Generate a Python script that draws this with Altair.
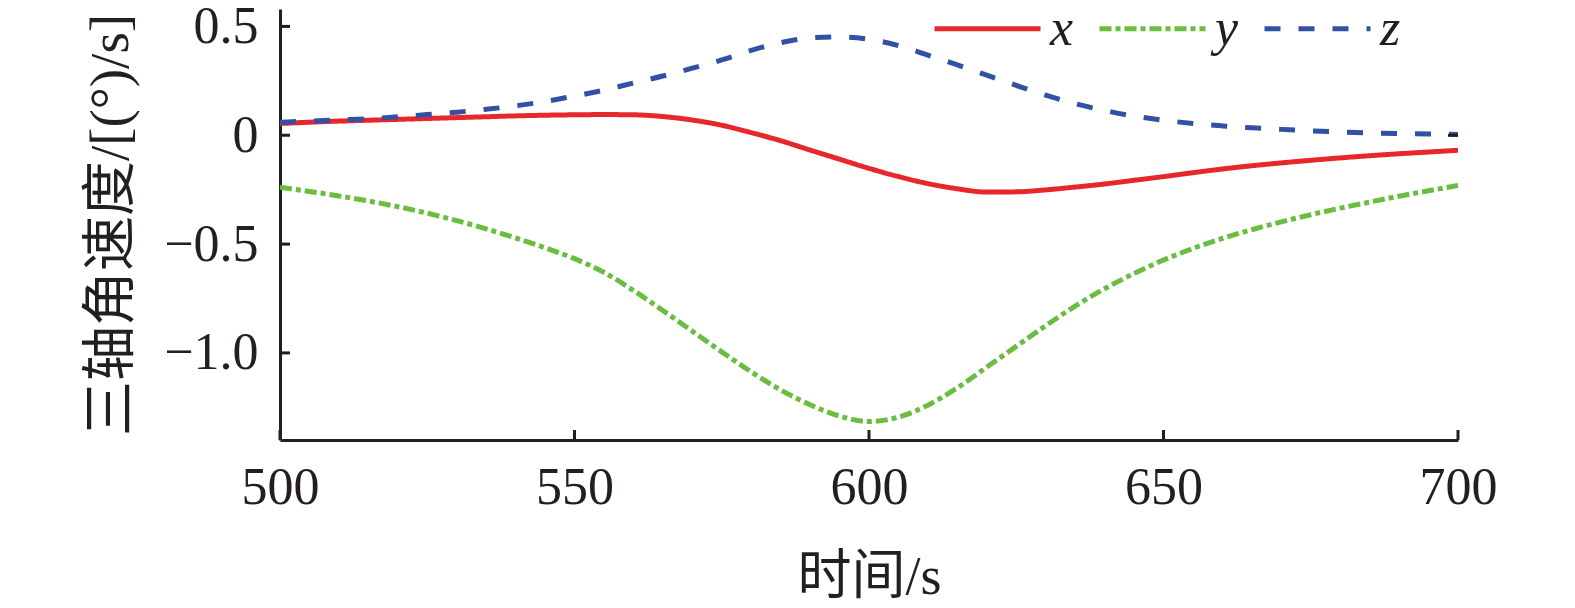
import altair as alt
import pandas as pd

# time axis (s)
t_vals = list(range(500, 701, 5))

# three-axis angular velocity, (°)/s
x_vals = [0.054, 0.060, 0.065, 0.069, 0.073, 0.077, 0.081, 0.085, 0.089, 0.092,
          0.094, 0.095, 0.094, 0.086, 0.070, 0.046, 0.012, -0.025, -0.068, -0.110,
          -0.152, -0.190, -0.222, -0.246, -0.261, -0.260, -0.251, -0.238, -0.224, -0.207,
          -0.190, -0.172, -0.155, -0.140, -0.127, -0.115, -0.104, -0.094, -0.085, -0.077,
          -0.069]
y_vals = [-0.239, -0.258, -0.279, -0.302, -0.328, -0.358, -0.392, -0.430, -0.472, -0.517,
          -0.567, -0.630, -0.713, -0.805, -0.900, -0.995, -1.087, -1.170, -1.238, -1.290,
          -1.315, -1.295, -1.240, -1.160, -1.065, -0.970, -0.875, -0.785, -0.705, -0.635,
          -0.573, -0.520, -0.474, -0.434, -0.398, -0.365, -0.335, -0.307, -0.280, -0.255,
          -0.231]
z_vals = [0.060, 0.065, 0.071, 0.076, 0.085, 0.095, 0.106, 0.119, 0.135, 0.155,
          0.180, 0.207, 0.240, 0.272, 0.308, 0.346, 0.390, 0.425, 0.447, 0.452,
          0.441, 0.412, 0.368, 0.323, 0.276, 0.229, 0.184, 0.145, 0.114, 0.088,
          0.069, 0.054, 0.043, 0.034, 0.027, 0.020, 0.015, 0.011, 0.008, 0.006,
          0.004]

series_names = ["x", "y", "z"]
series_colors = ["#e8272c", "#6abd3f", "#3151a5"]
series_dash = [[1, 0], [12, 4, 5, 4], [16, 18]]

x_ticks = [500, 550, 600, 650, 700]
y_ticks = [0.5, 0, -0.5, -1.0]
right_ticks = [0]

rows = []
for name, vals in zip(series_names, [x_vals, y_vals, z_vals]):
    for t, v in zip(t_vals, vals):
        rows.append({"t": t, "v": v, "s": name})
df = pd.DataFrame(rows)

W, H = 1178, 431
SERIF = "Liberation Serif, Noto Sans CJK SC, serif"
INK = "#231f20"
TICK = 10

xscale = alt.Scale(domain=[500, 700], nice=False, zero=False)
yscale = alt.Scale(domain=[-1.40, 0.58], nice=False, zero=False)

ylabel_expr = ("datum.value == 0 ? '0' : (datum.value < 0 ? '\u2212' + format(abs(datum.value), '.1f')"
               " : format(datum.value, '.1f'))")

legend_def = alt.Legend(
    title=None, orient="none", legendX=652, legendY=-36, direction="horizontal",
    symbolType="stroke", symbolSize=11236, symbolStrokeWidth=5,
    labelFont="Liberation Serif", labelFontStyle="italic", labelFontSize=52,
    labelColor=INK, labelOffset=7, columnPadding=15, padding=0,
)

lines = alt.Chart(df).mark_line(strokeWidth=5, interpolate="monotone").encode(
    x=alt.X("t:Q", scale=xscale, axis=alt.Axis(
        values=x_ticks, ticks=False, tickSize=0, grid=False, format="d", labelFlush=False,
        domainColor=INK, domainWidth=3,
        labelFont=SERIF, labelFontSize=52, labelColor=INK, labelPadding=22,
        title="时间/s", titleFont=SERIF, titleFontSize=54, titleFontWeight="normal",
        titleColor=INK, titlePadding=37)),
    y=alt.Y("v:Q", scale=yscale, axis=alt.Axis(
        values=y_ticks, ticks=False, tickSize=0, grid=False, labelExpr=ylabel_expr, labelFlush=False,
        domainColor=INK, domainWidth=3,
        labelFont=SERIF, labelFontSize=52, labelColor=INK, labelPadding=22,
        title="三轴角速度/[(°)/s]", titleFont=SERIF, titleFontSize=55, titleFontWeight="normal",
        titleColor=INK, titlePadding=24)),
    color=alt.Color("s:N", scale=alt.Scale(domain=series_names, range=series_colors), legend=legend_def),
    strokeDash=alt.StrokeDash("s:N", scale=alt.Scale(domain=series_names, range=series_dash), legend=legend_def),
)

# inward tick marks drawn through the shared scales
xt = pd.DataFrame({"t": x_ticks})
yt = pd.DataFrame({"v": y_ticks})
rt = pd.DataFrame({"v": right_ticks})

xtick_layer = alt.Chart(xt).mark_rule(strokeWidth=3, color=INK).encode(
    x=alt.X("t:Q", scale=xscale), y=alt.value(H), y2=alt.value(H - TICK))
ytick_layer = alt.Chart(yt).mark_rule(strokeWidth=3, color=INK).encode(
    y=alt.Y("v:Q", scale=yscale), x=alt.value(0), x2=alt.value(TICK))
rtick_layer = alt.Chart(rt).mark_rule(strokeWidth=3, color=INK).encode(
    y=alt.Y("v:Q", scale=yscale), x=alt.value(W - TICK), x2=alt.value(W))

chart = alt.layer(lines, xtick_layer, ytick_layer, rtick_layer).properties(
    width=W, height=H, background="white",
    autosize=alt.AutoSizeParams(type="none"),
    padding={"left": 272, "top": 1, "right": 85, "bottom": 166},
).configure_view(stroke="transparent", strokeWidth=0)

chart.save("out.html", embed_options={"renderer": "svg", "actions": False})
